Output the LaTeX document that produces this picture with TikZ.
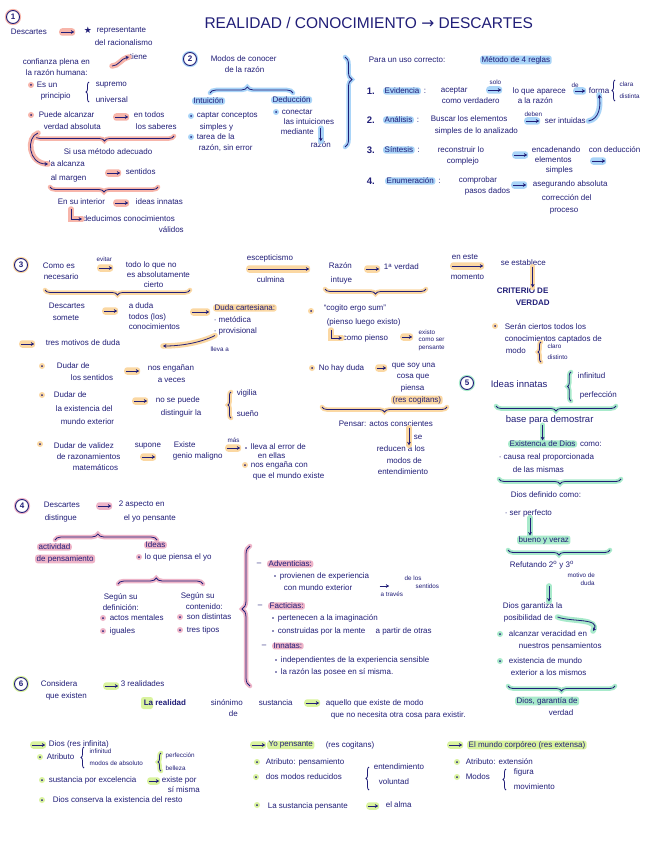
\documentclass[tikz,border=0pt]{standalone}
\usepackage{fontspec}
\setmainfont{Liberation Sans}
\newfontfamily\symf{DejaVu Sans}
\usetikzlibrary{decorations.pathreplacing,arrows.meta,calc}
\definecolor{ink}{HTML}{211E78}
\definecolor{cS}{HTML}{F7B5AA}
\definecolor{cB}{HTML}{A9D4F8}
\definecolor{cO}{HTML}{FBD8A3}
\definecolor{cP}{HTML}{EEB4C8}
\definecolor{cG}{HTML}{A8EACB}
\definecolor{cL}{HTML}{D9F39E}
\newcommand{\fs}{\fontsize{8}{9}\selectfont}
\newcommand{\fsm}{\fontsize{6.3}{7}\selectfont}
\newcommand{\fsb}{\fontsize{9.5}{10.5}\selectfont}
\newcommand{\bul}[2]{\fill[#1] #2 circle (3pt); \fill[ink] #2 circle (1pt);}
\newcommand{\dt}[1]{\fill[ink] #1 circle (0.9pt);}
\newcommand{\hbr}[4]{\draw[#1, line width=4.5pt, line cap=round, decorate, decoration={brace, #2}] #3 -- #4; \draw[ink, line width=0.8pt, decorate, decoration={brace, #2}] #3 -- #4;}
\tikzset{
 tx/.style={anchor=west, inner sep=0.6pt, text=ink, font=\fs},
 sm/.style={anchor=west, inner sep=0.4pt, text=ink, font=\fsm},
 hl/.style={fill=#1, rounded corners=2.5pt, inner xsep=1.5pt},
 arr/.style={draw=ink, line width=0.8pt, -{Stealth[length=3.4pt,width=3.8pt]}},
 harr/.style={arr, preaction={draw=#1, line width=5.5pt, line cap=round, -}},
 ha/.style={anchor=west, fill=#1, rounded corners=3pt, minimum width=16pt, minimum height=7.5pt, inner sep=0pt,
   path picture={\draw[arr] ([xshift=1.5pt]path picture bounding box.west) -- ([xshift=-1pt]path picture bounding box.east);}},
 brc/.style={draw=ink, line width=0.8pt, decorate, decoration={brace, amplitude=3pt}},
 num/.style={circle, draw=ink, line width=0.9pt, inner sep=0.5pt, minimum size=13pt, text=ink, font=\fs\bfseries, fill=white, preaction={draw=#1, line width=3.2pt}}
}
\begin{document}
\begin{tikzpicture}[x=1pt,y=-1pt]
\useasboundingbox (0,0) rectangle (646,848);
\fill[white] (0,0) rectangle (646,848);

% ---------- title
\node[anchor=west, text=ink, font=\fontsize{15.5}{17}\selectfont] (title) at (201,23) {REALIDAD / CONOCIMIENTO {\symf →} DESCARTES};

% ---------- Section 1
\node[num=cS] (n1) at (13,17) {1};
\node[tx] (s1a) at (10,32) {Descartes};
\node[ha=cS] (s1ar1) at (59,32) {};
\node[tx, font=\symf\fontsize{9}{10}\selectfont] (s1st) at (83,30) {★};
\node[tx] (s1b) at (96,31) {representante};
\node[tx] (s1c) at (94,43) {del racionalismo};
\node[tx] (s1d) at (22,62) {confianza plena en};
\node[tx] (s1e) at (25,73) {la razón humana:};
\node[tx] (s1f) at (129,57) {tiene};
\coordinate (s1fa) at (112,66);
\draw[harr=cS] (s1fa) .. controls (119,66) and (120,59) .. (s1f.west);
\bul{cS}{(31,85)}
\node[tx] (s1g) at (36,85) {Es un};
\node[tx] (s1h) at (40,96) {principio};
\draw[brc] (89,102) -- (89,82);
\node[tx] (s1i) at (95,85) {supremo};
\node[tx] (s1j) at (95,100) {universal};
\bul{cS}{(31,115)}
\node[tx] (s1k) at (38,115) {Puede alcanzar};
\node[tx] (s1l) at (43,127) {verdad absoluta};
\node[ha=cS] (s1ar2) at (113,117) {};
\node[tx] (s1m) at (133,115) {en todos};
\node[tx] (s1n) at (135,127) {los saberes};
\hbr{cS}{amplitude=5pt}{(174,136)}{(35,136)}
\node[tx] (s1o) at (63,152) {Si usa método adecuado};
\node[tx] (s1p) at (48,164) {la alcanza};
\node[tx] (s1q) at (50,178) {al margen};
\coordinate (s1r) at (38,133);
\draw[harr=cS] (s1r) .. controls (26,137) and (28,164) .. (s1p.west);
\node[ha=cS] (s1ar3) at (105,173) {};
\node[tx] (s1s) at (125,172) {sentidos};
\hbr{cS}{amplitude=5pt}{(158,187)}{(50,187)}
\node[tx] (s1t) at (57,202) {En su interior};
\node[ha=cS] (s1ar4) at (113,203) {};
\node[tx] (s1u) at (135,202) {ideas innatas};
\coordinate (s1v) at (71,209);
\node[tx] (s1w) at (82,219) {deducimos conocimientos};
\node[tx] (s1x) at (158,230) {válidos};
\draw[harr=cS] (s1v) |- (s1w.west);

% ---------- Section 2
\node[num=cB] (n2) at (190,59) {2};
\node[tx] (s2a) at (210,59) {Modos de conocer};
\node[tx] (s2b) at (224,70) {de la razón};
\hbr{cB}{amplitude=6pt, aspect=0.45}{(210,93)}{(293,93)}
\node[tx, hl=cB] (s2c) at (192,101) {Intuición};
\node[tx, hl=cB] (s2d) at (271,100) {Deducción};
\bul{cB}{(191,116)}
\node[tx] (s2e) at (196,116) {captar conceptos};
\node[tx] (s2f) at (199,127) {simples y};
\bul{cB}{(191,137)}
\node[tx] (s2g) at (196,137) {tarea de la};
\node[tx] (s2h) at (198,148) {razón, sin error};
\bul{cB}{(276,112)}
\node[tx] (s2i) at (281,112) {conectar};
\node[tx] (s2j) at (283,122) {las intuiciones};
\node[tx] (s2k) at (280,132) {mediante};
\node[tx] (s2l) at (310,145) {razón};
\draw[harr=cB] (s2l.north |- s2k.north) -- (s2l.north);
\hbr{cB}{amplitude=7pt, aspect=0.25}{(345,57)}{(345,147)}

% rules
\node[tx] (r0) at (368,60) {Para un uso correcto:};
\node[tx, hl=cB] (r0b) at (480,60) {Método de 4 reglas};
\node[tx, font=\fsb\bfseries] (r1) at (366,91) {1.};
\node[tx, hl=cB] (r1a) at (383,91) {Evidencia};
\node[tx] (r1b) at ([xshift=2pt]r1a.east) {:};
\node[tx] (r1c) at (440,91) {aceptar};
\node[tx] (r1d) at (441,101) {como verdadero};
\node[sm] (r1e) at (489,82) {solo};
\node[ha=cB] (r1f) at (486,90) {};
\node[tx] (r1g) at (512,91) {lo que aparece};
\node[tx] (r1h) at (517,101) {a la razón};
\node[sm] (r1i) at (571,85) {de};
\node[ha=cB, minimum width=13pt] (r1j) at (573,91) {};
\node[tx] (r1k) at (588,91) {forma};
\draw[brc] (615,101) -- (615,80);
\node[sm] (r1l) at (619,84) {clara};
\node[sm] (r1m) at (619,96) {distinta};
\node[tx, font=\fsb\bfseries] (r2) at (366,120) {2.};
\node[tx, hl=cB] (r2a) at (383,120) {Análisis};
\node[tx] (r2b) at ([xshift=2pt]r2a.east) {:};
\node[tx] (r2c) at (430,119) {Buscar los elementos};
\node[tx] (r2d) at (434,131) {simples de lo analizado};
\node[sm] (r2e) at (524,114) {deben};
\node[ha=cB] (r2f) at (524,121) {};
\node[tx] (r2g) at (544,121) {ser intuidas};
\draw[harr=cB] ([xshift=2pt]r2g.east) to[out=10, in=-80] (r1k.south);
\node[tx, font=\fsb\bfseries] (r3) at (366,150) {3.};
\node[tx, hl=cB] (r3a) at (383,150) {Síntesis};
\node[tx] (r3b) at ([xshift=2pt]r3a.east) {:};
\node[tx] (r3c) at (437,150) {reconstruir lo};
\node[tx] (r3d) at (446,161) {complejo};
\node[ha=cB] (r3e) at (512,155) {};
\node[tx] (r3f) at (531,150) {encadenando};
\node[tx] (r3g) at (534,160) {elementos};
\node[tx] (r3h) at (545,170) {simples};
\node[tx] (r3i) at (588,150) {con deducción};
\node[ha=cB] (r3j) at (590,161) {};
\node[tx, font=\fsb\bfseries] (r4) at (366,181) {4.};
\node[tx, hl=cB] (r4a) at (385,181) {Enumeración};
\node[tx] (r4b) at ([xshift=2pt]r4a.east) {:};
\node[tx] (r4c) at (458,180) {comprobar};
\node[tx] (r4d) at (464,191) {pasos dados};
\node[ha=cB] (r4e) at (511,185) {};
\node[tx] (r4f) at (532,184) {asegurando absoluta};
\node[tx] (r4g) at (541,198) {corrección del};
\node[tx] (r4h) at (549,211) {proceso};

% ---------- Section 3
\node[num=cO] (n3) at (21,265) {3};
\node[tx] (s3a) at (42,266) {Como es};
\node[tx] (s3b) at (43,277) {necesario};
\node[sm] (s3c) at (96,259) {evitar};
\node[ha=cO] (s3d) at (97,268) {};
\node[tx] (s3e) at (125,265) {todo lo que no};
\node[tx] (s3f) at (126,275) {es absolutamente};
\node[tx] (s3g) at (143,285) {cierto};
\hbr{cO}{amplitude=5pt}{(190,290)}{(45,290)}
\node[tx] (s3h) at (246,258) {escepticismo};
\node[ha=cO, minimum width=64pt] (s3i) at (246,269) {};
\node[tx] (s3j) at (256,280) {culmina};
\node[tx] (s3k) at (328,266) {Razón};
\node[tx] (s3l) at (330,280) {intuye};
\node[ha=cO] (s3m) at (364,269) {};
\node[tx] (s3n) at (383,267) {1\textsuperscript{a} verdad};
\hbr{cO}{amplitude=5pt}{(426,289)}{(325,289)}
\node[tx] (s3o) at (451,257) {en este};
\node[ha=cO, minimum width=34pt] (s3p) at (450,266) {};
\node[tx] (s3q) at (450,277) {momento};
\node[tx] (s3r) at (500,263) {se establece};
\node[tx, font=\fs\bfseries] (s3s) at (496,291) {CRITERIO DE};
\node[tx, font=\fs\bfseries] (s3t) at (515,303) {VERDAD};
\draw[harr=cO] (s3r.south -| s3t.north) -- (s3s.north -| s3t.north);
\node[tx] (s3u) at (48,306) {Descartes};
\node[tx] (s3v) at (52,318) {somete};
\node[ha=cO] (s3w) at (102,311) {};
\node[tx] (s3x) at (128,306) {a duda};
\node[tx] (s3y) at (128,317) {todos (los)};
\node[tx] (s3z) at (128,327) {conocimientos};
\node[ha=cO, minimum width=20pt] (s3aa) at (190,312) {};
\node[tx, hl=cO] (s3ab) at (213,308) {Duda cartesiana:};
\node[tx] (s3ac) at (213,320) {· metódica};
\node[tx] (s3ad) at (213,331) {· provisional};
\node[sm] (s3ae) at (210,349) {lleva a};
\node[ha=cO] (s3af) at (19,344) {};
\node[tx] (s3ag) at (45,343) {tres motivos de duda};
\coordinate (s3ah) at (163,346);
\draw[harr=cO] ([xshift=2pt]s3ad.south west) .. controls (200,343) and (180,346) .. (s3ah);
\bul{cO}{(42,366)}
\node[tx] (s3ai) at (56,366) {Dudar de};
\node[tx] (s3aj) at (70,378) {los sentidos};
\node[ha=cO] (s3ak) at (124,371) {};
\node[tx] (s3al) at (147,368) {nos engañan};
\node[tx] (s3am) at (157,380) {a veces};
\bul{cO}{(42,395)}
\node[tx] (s3an) at (53,395) {Dudar de};
\node[tx] (s3ao) at (55,409) {la existencia del};
\node[tx] (s3ap) at (60,422) {mundo exterior};
\node[ha=cO] (s3aq) at (132,401) {};
\node[tx] (s3ar) at (155,400) {no se puede};
\node[tx] (s3as) at (160,413) {distinguir la};
\hbr{cO}{amplitude=3pt}{(231,418)}{(231,392)}
\node[tx] (s3at) at (236,393) {vigilia};
\node[tx] (s3au) at (236,414) {sueño};
\bul{cO}{(40,444)}
\node[tx] (s3av) at (53,446) {Dudar de validez};
\node[tx] (s3aw) at (56,457) {de razonamientos};
\node[tx] (s3ax) at (72,468) {matemáticos};
\node[tx] (s3ay) at (134,446) {supone};
\node[ha=cO] (s3az) at (140,457) {};
\node[tx] (s3ba) at (173,445) {Existe};
\node[tx] (s3bb) at (172,456) {genio maligno};
\node[sm] (s3bc) at (227,440) {más};
\node[ha=cO] (s3bd) at (225,448) {};
\dt{(246,448)}
\node[tx] (s3be) at (250,447) {lleva al error de};
\node[tx] (s3bf) at (257,456) {en ellas};
\bul{cO}{(245,465)}
\node[tx] (s3bg) at (250,465) {nos engaña con};
\node[tx] (s3bh) at (252,476) {que el mundo existe};
\bul{cO}{(311,311)}
\node[tx] (s3bi) at (323,308) {“cogito ergo sum”};
\node[tx] (s3bj) at (326,322) {(pienso luego existo)};
\coordinate (s3bk) at (331,330);
\node[tx] (s3bl) at (342,338) {como pienso};
\draw[harr=cO] (s3bk) |- (s3bl.west);
\node[ha=cO, minimum width=13pt] (s3bm) at (400,337) {};
\node[sm] (s3bn) at (418,332) {existo};
\node[sm] (s3bo) at (418,340) {como ser};
\node[sm] (s3bp) at (418,348) {pensante};
\bul{cO}{(312,368)}
\node[tx] (s3bq) at (318,368) {No hay duda};
\node[ha=cO, minimum width=12pt] (s3br) at (375,368) {};
\node[tx] (s3bs) at (391,366) {que soy una};
\node[tx] (s3bt) at (396,377) {cosa que};
\node[tx] (s3bu) at (400,388) {piensa};
\node[tx, hl=cO] (s3bv) at (391,400) {(res cogitans)};
\hbr{cO}{amplitude=5pt}{(447,407)}{(322,407)}
\node[tx] (s3bw) at (338,424) {Pensar: actos conscientes};
\node[tx] (s3bx) at (413,437) {se};
\node[tx] (s3by) at (376,449) {reducen a los};
\node[tx] (s3bz) at (386,461) {modos de};
\node[tx] (s3ca) at (377,472) {entendimiento};
\draw[harr=cO] ([xshift=-4pt]s3bx.west |- s3bw.south) -- ([xshift=-4pt]s3bx.west |- s3by.north);
\bul{cO}{(495,326)}
\node[tx] (s3cb) at (504,327) {Serán ciertos todos los};
\node[tx] (s3cc) at (504,339) {conocimientos captados de};
\node[tx] (s3cd) at (505,351) {modo};
\hbr{cO}{amplitude=3pt}{(541,362)}{(541,342)}
\node[sm] (s3ce) at (547,346) {claro};
\node[sm] (s3cf) at (547,357) {distinto};

% ---------- Section 5
\node[num=cG] (n5) at (467,383) {5};
\node[tx, font=\fsb] (s5a) at (490,384) {Ideas innatas};
\hbr{cG}{amplitude=3.5pt}{(571,401)}{(571,372)}
\node[tx] (s5b) at (577,376) {infinitud};
\node[tx] (s5c) at (579,395) {perfección};
\hbr{cG}{amplitude=5pt}{(616,406)}{(496,406)}
\node[tx, font=\fsb] (s5d) at (505,420) {base para demostrar};
\node[tx, hl=cG] (s5e) at (508,444) {Existencia de Dios};
\node[tx] (s5f) at ([xshift=2pt]s5e.east) {como:};
\draw[harr=cG] (s5e.north |- s5d.south) -- (s5e.north);
\node[tx] (s5g) at (498,457) {· causa real proporcionada};
\node[tx] (s5h) at (512,470) {de las mismas};
\hbr{cG}{amplitude=5pt}{(621,479)}{(499,479)}
\node[tx] (s5i) at (510,495) {Dios definido como:};
\node[tx] (s5j) at (504,513) {· ser perfecto};
\node[tx, hl=cG] (s5k) at (517,540) {bueno y veraz};
\draw[harr=cG] ([xshift=13pt]s5k.north west |- s5j.south) -- ([xshift=13pt]s5k.north west);
\hbr{cG}{amplitude=5pt}{(610,550)}{(508,550)}
\node[tx] (s5l) at (509,565) {Refutando 2\textsuperscript{o} y 3\textsuperscript{o}};
\node[sm] (s5m) at (567,575) {motivo de};
\node[sm] (s5n) at (580,583) {duda};
\node[tx] (s5o) at (502,606) {Dios garantiza la};
\node[tx] (s5p) at (503,618) {posibilidad de};
\draw[harr=cG] ([xshift=47pt]s5o.north west |- s5n.south) -- ([xshift=47pt]s5o.north west);
\coordinate (s5cc) at (593,631);
\draw[harr=cG] ([xshift=4pt,yshift=1pt]s5p.east) to[out=-20, in=60] (s5cc);
\bul{cG}{(500,634)}
\node[tx] (s5q) at (508,634) {alcanzar veracidad en};
\node[tx] (s5r) at (518,646) {nuestros pensamientos};
\bul{cG}{(500,661)}
\node[tx] (s5s) at (508,661) {existencia de mundo};
\node[tx] (s5t) at (510,673) {exterior a los mismos};
\hbr{cG}{amplitude=5pt}{(615,686)}{(508,686)}
\node[tx, hl=cG] (s5u) at (515,701) {Dios, garantía de};
\node[tx] (s5v) at (548,713) {verdad};

% ---------- Section 4
\node[num=cP] (n4) at (22,506) {4};
\node[tx] (s4a) at (43,505) {Descartes};
\node[tx] (s4b) at (44,518) {distingue};
\node[ha=cP] (s4c) at (96,506) {};
\node[tx] (s4d) at (118,505) {2 aspecto en};
\node[tx] (s4e) at (123,518) {el yo pensante};
\hbr{cP}{amplitude=6pt, aspect=0.42}{(55,540)}{(157,540)}
\node[tx, hl=cP] (s4f) at (37,547) {actividad};
\node[tx, hl=cP] (s4g) at (35,559) {de pensamiento};
\node[tx, hl=cP] (s4h) at (144,545) {Ideas};
\bul{cP}{(139,557)}
\node[tx] (s4i) at (144,557) {lo que piensa el yo};
\hbr{cP}{amplitude=6pt, aspect=0.45}{(118,584)}{(203,584)}
\node[tx] (s4j) at (103,597) {Según su};
\node[tx] (s4k) at (102,608) {definición:};
\bul{cP}{(103,618)}
\node[tx] (s4l) at (109,618) {actos mentales};
\bul{cP}{(103,631)}
\node[tx] (s4m) at (109,631) {iguales};
\node[tx] (s4n) at (180,596) {Según su};
\node[tx] (s4o) at (185,607) {contenido:};
\bul{cP}{(180,617)}
\node[tx] (s4p) at (186,617) {son distintas};
\bul{cP}{(180,630)}
\node[tx] (s4q) at (186,630) {tres tipos};
\hbr{cP}{amplitude=8pt, aspect=0.55}{(250,686)}{(250,546)}
\node[tx] (s4r) at (256,564) {–};
\node[tx, hl=cP] (s4s) at (267,564) {Adventicias:};
\dt{(275,576)}
\node[tx] (s4t) at (279,576) {provienen de experiencia};
\node[tx] (s4u) at (283,588) {con mundo exterior};
\node[ha=white, minimum width=12pt] (s4v) at (378,586) {};
\node[sm] (s4w) at (380,594) {a través};
\node[sm] (s4x) at (404,578) {de los};
\node[sm] (s4y) at (415,586) {sentidos};
\node[tx] (s4z) at (257,606) {–};
\node[tx, hl=cP] (s4ab) at (268,606) {Facticias:};
\dt{(273,618)}
\node[tx] (s4ac) at (277,618) {pertenecen a la imaginación};
\dt{(273,631)}
\node[tx] (s4ad) at (277,631) {construidas por la mente \quad a partir de otras};
\node[tx] (s4ae) at (261,646) {–};
\node[tx, hl=cP] (s4af) at (272,646) {Innatas:};
\dt{(276,660)}
\node[tx] (s4ag) at (280,660) {independientes de la experiencia sensible};
\dt{(276,672)}
\node[tx] (s4ah) at (280,672) {la razón las posee en sí misma.};

% ---------- Section 6
\node[num=cL] (n6) at (21,684) {6};
\node[tx] (s6a) at (40,684) {Considera};
\node[tx] (s6b) at (45,696) {que existen};
\node[ha=cL] (s6c) at (103,686) {};
\node[tx] (s6d) at (120,684) {3 realidades};
\fill[cL, rounded corners=2.5pt] (141,697) rectangle (153,709);
\node[tx, font=\fs\bfseries] (s6e) at (143,703) {La realidad};
\node[tx] (s6f) at (210,703) {sinónimo};
\node[tx] (s6g) at (228,714) {de};
\node[tx] (s6h) at (258,703) {sustancia};
\node[ha=cL] (s6i) at (304,703) {};
\node[tx] (s6j) at (325,703) {aquello que existe de modo};
\node[tx] (s6k) at (330,715) {que no necesita otra cosa para existir.};

% bottom
\node[ha=cL] (b1) at (30,745) {};
\node[tx] (b2) at (48,744) {Dios (res infinita)};
\bul{cL}{(40,757)}
\node[tx] (b3) at (46,757) {Atributo};
\draw[brc] (84,768) -- (84,747);
\node[sm] (b4) at (89,751) {infinitud};
\node[sm] (b5) at (89,763) {modos de absoluto};
\hbr{cL}{amplitude=3pt}{(161,771)}{(161,753)}
\node[sm] (b6) at (165,756) {perfección};
\node[sm] (b7) at (165,768) {belleza};
\bul{cL}{(42,780)}
\node[tx] (b8) at (48,780) {sustancia por excelencia};
\node[ha=cL, minimum width=13pt] (b9) at (147,781) {};
\node[tx] (b10) at (161,780) {existe por};
\node[tx] (b11) at (167,790) {sí misma};
\bul{cL}{(42,800)}
\node[tx] (b12) at (52,800) {Dios conserva la existencia del resto};

\node[ha=cL] (c1) at (250,745) {};
\node[tx, hl=cL] (c2) at (267,745) {Yo pensante};
\node[tx] (c3) at (325,745) {(res cogitans)};
\bul{cL}{(257,762)}
\node[tx] (c4) at (265,762) {Atributo: pensamiento};
\bul{cL}{(256,777)}
\node[tx] (c5) at (265,777) {dos modos reducidos};
\draw[brc] (369,790) -- (369,767);
\node[tx] (c6) at (373,767) {entendimiento};
\node[tx] (c7) at (378,782) {voluntad};
\bul{cL}{(257,805)}
\node[tx] (c8) at (267,806) {La sustancia pensante};
\node[ha=cL, minimum width=13pt] (c9) at (366,806) {};
\node[tx] (c10) at (385,805) {el alma};

\node[ha=cL] (d1) at (447,745) {};
\node[tx, hl=cL] (d2) at (467,745) {El mundo corpóreo (res extensa)};
\bul{cL}{(457,762)}
\node[tx] (d3) at (465,762) {Atributo: extensión};
\bul{cL}{(457,777)}
\node[tx] (d4) at (465,777) {Modos};
\draw[brc] (506,790) -- (506,769);
\node[tx] (d5) at (513,772) {figura};
\node[tx] (d6) at (513,787) {movimiento};
\end{tikzpicture}
\end{document}
